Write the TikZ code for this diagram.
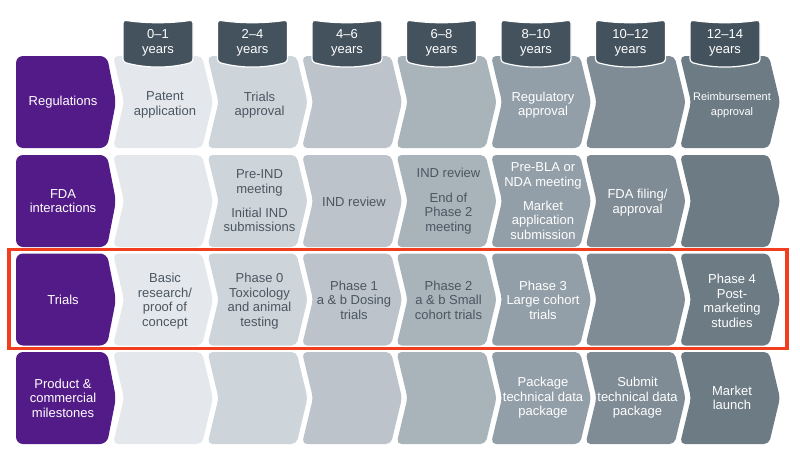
\documentclass[tikz,border=0pt]{standalone}
\usepackage{fontspec}
\setmainfont{Liberation Sans}
\usepackage{tikz}
\usepackage{xcolor}
\definecolor{labpurple}{HTML}{531B88}
\definecolor{tabslate}{HTML}{44525D}
\definecolor{txtslate}{HTML}{4B5661}
\definecolor{frame}{HTML}{F03E1E}
\definecolor{colA}{HTML}{E4E8EC}
\definecolor{colB}{HTML}{CED5DA}
\definecolor{colC}{HTML}{BCC3CA}
\definecolor{colD}{HTML}{A9B3BA}
\definecolor{colE}{HTML}{939FA8}
\definecolor{colF}{HTML}{7F8C95}
\definecolor{colG}{HTML}{6D7B85}

\begin{document}
\begin{tikzpicture}[x=1pt,y=-1pt,
  every node/.style={font=\fontsize{13}{14.5}\selectfont,align=center},
  chev/.style={rounded corners=5pt},
  rowlab/.style={text=white},
  celldark/.style={text=txtslate},
  celllight/.style={text=white},
  tabbox/.style={fill=tabslate,draw=white,line width=1.2pt,rounded corners=3pt}]
\useasboundingbox (0,0) rectangle (800,455);

% row 1: regulations
\fill[labpurple,rounded corners=7pt] (16,56) -- ++(91,0) -- ++(9,46) -- ++(-9,46) -- ++(-91,0) -- cycle;
\node[rowlab] (regl) at (63,102) {Regulations};
\fill[chev,colA] (113,56) -- ++(89,0) -- ++(11,46) -- ++(-11,46) -- ++(-89,0) -- ++(11,-46) -- cycle;
\fill[chev,colB] (207.5,56) -- ++(89,0) -- ++(11,46) -- ++(-11,46) -- ++(-89,0) -- ++(11,-46) -- cycle;
\fill[chev,colC] (302,56) -- ++(89,0) -- ++(11,46) -- ++(-11,46) -- ++(-89,0) -- ++(11,-46) -- cycle;
\fill[chev,colD] (396.5,56) -- ++(89,0) -- ++(11,46) -- ++(-11,46) -- ++(-89,0) -- ++(11,-46) -- cycle;
\fill[chev,colE] (491,56) -- ++(89,0) -- ++(11,46) -- ++(-11,46) -- ++(-89,0) -- ++(11,-46) -- cycle;
\fill[chev,colF] (585.5,56) -- ++(89,0) -- ++(11,46) -- ++(-11,46) -- ++(-89,0) -- ++(11,-46) -- cycle;
\fill[chev,colG] (680,56) -- ++(89,0) -- ++(11,46) -- ++(-11,46) -- ++(-89,0) -- ++(11,-46) -- cycle;
\node[celldark] (patent) at (165,105) {Patent\\application};
\node[celldark] (trialsok) at (259.5,105) {Trials\\approval};
\node[celllight] (regok) at (543,105) {Regulatory\\approval};
\node[celllight,font=\fontsize{11}{14.5}\selectfont] (reimb) at (732,105) {Reimbursement\\approval};

% year tabs
\draw[tabbox] (123,20) .. controls (146,23.5) and (170,23.5) .. (193,20) -- (193,62) .. controls (170,68.5) and (146,68.5) .. (123,62) -- cycle;
\draw[tabbox] (217.5,20) .. controls (240.5,23.5) and (264.5,23.5) .. (287.5,20) -- (287.5,62) .. controls (264.5,68.5) and (240.5,68.5) .. (217.5,62) -- cycle;
\draw[tabbox] (312,20) .. controls (335,23.5) and (359,23.5) .. (382,20) -- (382,62) .. controls (359,68.5) and (335,68.5) .. (312,62) -- cycle;
\draw[tabbox] (406.5,20) .. controls (429.5,23.5) and (453.5,23.5) .. (476.5,20) -- (476.5,62) .. controls (453.5,68.5) and (429.5,68.5) .. (406.5,62) -- cycle;
\draw[tabbox] (501,20) .. controls (524,23.5) and (548,23.5) .. (571,20) -- (571,62) .. controls (548,68.5) and (524,68.5) .. (501,62) -- cycle;
\draw[tabbox] (595.5,20) .. controls (618.5,23.5) and (642.5,23.5) .. (665.5,20) -- (665.5,62) .. controls (642.5,68.5) and (618.5,68.5) .. (595.5,62) -- cycle;
\draw[tabbox] (690,20) .. controls (713,23.5) and (737,23.5) .. (760,20) -- (760,62) .. controls (737,68.5) and (713,68.5) .. (690,62) -- cycle;
\node[text=white] (yr1) at (158,43) {0--1\\years};
\node[text=white] (yr2) at (252.5,43) {2--4\\years};
\node[text=white] (yr3) at (347,43) {4--6\\years};
\node[text=white] (yr4) at (441.5,43) {6--8\\years};
\node[text=white] (yr5) at (536,43) {8--10\\years};
\node[text=white] (yr6) at (630.5,43) {10--12\\years};
\node[text=white] (yr7) at (725,43) {12--14\\years};

% row 2: FDA interactions
\fill[labpurple,rounded corners=7pt] (16,155) -- ++(91,0) -- ++(9,46) -- ++(-9,46) -- ++(-91,0) -- cycle;
\node[rowlab] (fdal) at (63,201) {FDA\\interactions};
\fill[chev,colA] (113,155) -- ++(89,0) -- ++(11,46) -- ++(-11,46) -- ++(-89,0) -- ++(11,-46) -- cycle;
\fill[chev,colB] (207.5,155) -- ++(89,0) -- ++(11,46) -- ++(-11,46) -- ++(-89,0) -- ++(11,-46) -- cycle;
\fill[chev,colC] (302,155) -- ++(89,0) -- ++(11,46) -- ++(-11,46) -- ++(-89,0) -- ++(11,-46) -- cycle;
\fill[chev,colD] (396.5,155) -- ++(89,0) -- ++(11,46) -- ++(-11,46) -- ++(-89,0) -- ++(11,-46) -- cycle;
\fill[chev,colE] (491,155) -- ++(89,0) -- ++(11,46) -- ++(-11,46) -- ++(-89,0) -- ++(11,-46) -- cycle;
\fill[chev,colF] (585.5,155) -- ++(89,0) -- ++(11,46) -- ++(-11,46) -- ++(-89,0) -- ++(11,-46) -- cycle;
\fill[chev,colG] (680,155) -- ++(89,0) -- ++(11,46) -- ++(-11,46) -- ++(-89,0) -- ++(11,-46) -- cycle;
\node[celldark] (preind) at (259.5,201) {Pre-IND\\meeting\\[9.5pt]Initial IND\\submissions};
\node[celldark] (indrev) at (354,202) {IND review};
\node[celldark] (endph2) at (448.5,201) {IND review\\[10pt]End of\\Phase 2\\meeting};
\node[celllight] (prebla) at (543,201) {Pre-BLA or\\NDA meeting\\[9.5pt]Market\\application\\submission};
\node[celllight] (filing) at (637.5,202.5) {FDA filing/\\approval};

% row 3: trials
\fill[labpurple,rounded corners=7pt] (16,253.5) -- ++(91,0) -- ++(9,46) -- ++(-9,46) -- ++(-91,0) -- cycle;
\node[rowlab] (triall) at (63,299.5) {Trials};
\fill[chev,colA] (113,253.5) -- ++(89,0) -- ++(11,46) -- ++(-11,46) -- ++(-89,0) -- ++(11,-46) -- cycle;
\fill[chev,colB] (207.5,253.5) -- ++(89,0) -- ++(11,46) -- ++(-11,46) -- ++(-89,0) -- ++(11,-46) -- cycle;
\fill[chev,colC] (302,253.5) -- ++(89,0) -- ++(11,46) -- ++(-11,46) -- ++(-89,0) -- ++(11,-46) -- cycle;
\fill[chev,colD] (396.5,253.5) -- ++(89,0) -- ++(11,46) -- ++(-11,46) -- ++(-89,0) -- ++(11,-46) -- cycle;
\fill[chev,colE] (491,253.5) -- ++(89,0) -- ++(11,46) -- ++(-11,46) -- ++(-89,0) -- ++(11,-46) -- cycle;
\fill[chev,colF] (585.5,253.5) -- ++(89,0) -- ++(11,46) -- ++(-11,46) -- ++(-89,0) -- ++(11,-46) -- cycle;
\fill[chev,colG] (680,253.5) -- ++(89,0) -- ++(11,46) -- ++(-11,46) -- ++(-89,0) -- ++(11,-46) -- cycle;
\node[celldark] (basic) at (165,301) {Basic\\research/\\proof of\\concept};
\node[celldark] (phase0) at (259.5,301) {Phase 0\\Toxicology\\and animal\\testing};
\node[celldark] (phase1) at (354,300) {Phase 1\\a \& b Dosing\\trials};
\node[celldark] (phase2) at (448.5,300) {Phase 2\\a \& b Small\\cohort trials};
\node[celllight] (phase3) at (543,300) {Phase 3\\Large cohort\\trials};
\node[celllight] (phase4) at (732,301) {Phase 4\\Post-\\marketing\\studies};
\draw[frame,line width=3.5pt] (9,249.5) rectangle (787,348.5);

% row 4: product and commercial milestones
\fill[labpurple,rounded corners=7pt] (16,352) -- ++(91,0) -- ++(9,46) -- ++(-9,46) -- ++(-91,0) -- cycle;
\node[rowlab] (prodl) at (63,398) {Product \&\\commercial\\milestones};
\fill[chev,colA] (113,352) -- ++(89,0) -- ++(11,46) -- ++(-11,46) -- ++(-89,0) -- ++(11,-46) -- cycle;
\fill[chev,colB] (207.5,352) -- ++(89,0) -- ++(11,46) -- ++(-11,46) -- ++(-89,0) -- ++(11,-46) -- cycle;
\fill[chev,colC] (302,352) -- ++(89,0) -- ++(11,46) -- ++(-11,46) -- ++(-89,0) -- ++(11,-46) -- cycle;
\fill[chev,colD] (396.5,352) -- ++(89,0) -- ++(11,46) -- ++(-11,46) -- ++(-89,0) -- ++(11,-46) -- cycle;
\fill[chev,colE] (491,352) -- ++(89,0) -- ++(11,46) -- ++(-11,46) -- ++(-89,0) -- ++(11,-46) -- cycle;
\fill[chev,colF] (585.5,352) -- ++(89,0) -- ++(11,46) -- ++(-11,46) -- ++(-89,0) -- ++(11,-46) -- cycle;
\fill[chev,colG] (680,352) -- ++(89,0) -- ++(11,46) -- ++(-11,46) -- ++(-89,0) -- ++(11,-46) -- cycle;
\node[celllight] (pkg) at (543,398) {Package\\technical data\\package};
\node[celllight] (submit) at (637.5,398) {Submit\\technical data\\package};
\node[celllight] (launch) at (732,398) {Market\\launch};
\end{tikzpicture}
\end{document}
